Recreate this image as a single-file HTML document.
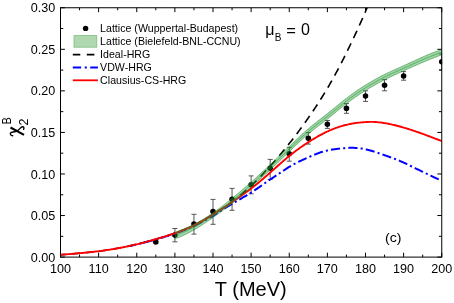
<!DOCTYPE html>
<html><head><meta charset="utf-8"><title>chi2B vs T</title>
<style>
html,body{margin:0;padding:0;background:#fff;}
body{width:454px;height:303px;overflow:hidden;font-family:"Liberation Sans",sans-serif;}
svg{display:block;will-change:transform;}
</style></head><body>
<svg width="454" height="303" viewBox="0 0 454 303" font-family="'Liberation Sans', sans-serif" fill="#000">
<rect width="454" height="303" fill="#fff"/>
<defs><clipPath id="cb"><rect x="130" y="0" width="330" height="303"/></clipPath><clipPath id="cp"><rect x="60.5" y="7.75" width="381.65" height="249.35"/></clipPath></defs>
<g clip-path="url(#cp)">
<path d="M174.88 228.5 V241.8 M172.38 228.5 H177.38 M172.38 241.8 H177.38 M193.94 214.3 V234.1 M191.44 214.3 H196.44 M191.44 234.1 H196.44 M213 199.4 V224.3 M210.5 199.4 H215.5 M210.5 224.3 H215.5 M232.06 188.4 V210.3 M229.56 188.4 H234.56 M229.56 210.3 H234.56 M251.12 175.9 V193.8 M248.62 175.9 H253.62 M248.62 193.8 H253.62 M270.19 159.4 V179.4 M267.69 159.4 H272.69 M267.69 179.4 H272.69 M289.25 147.3 V161.2 M286.75 147.3 H291.75 M286.75 161.2 H291.75 M308.31 132.6 V144.1 M305.81 132.6 H310.81 M305.81 144.1 H310.81 M327.38 120.5 V128.4 M324.88 120.5 H329.88 M324.88 128.4 H329.88 M346.44 103.6 V113.3 M343.94 103.6 H348.94 M343.94 113.3 H348.94 M365.5 90.8 V101.4 M363 90.8 H368 M363 101.4 H368 M384.56 79.6 V90.8 M382.06 79.6 H387.06 M382.06 90.8 H387.06 M403.62 71.6 V80.2 M401.12 71.6 H406.12 M401.12 80.2 H406.12 M441.75 54 V70 M439.25 54 H444.25 M439.25 70 H444.25" stroke="#555" stroke-width="1" fill="none"/>
<circle cx="155.81" cy="242" r="2.78"/>
<circle cx="174.88" cy="235.1" r="2.78"/>
<circle cx="193.94" cy="224.1" r="2.78"/>
<circle cx="213" cy="211.6" r="2.78"/>
<circle cx="232.06" cy="199.2" r="2.78"/>
<circle cx="251.12" cy="184.8" r="2.78"/>
<circle cx="270.19" cy="168.2" r="2.78"/>
<circle cx="289.25" cy="153.7" r="2.78"/>
<circle cx="308.31" cy="138.2" r="2.78"/>
<circle cx="327.38" cy="124.3" r="2.78"/>
<circle cx="346.44" cy="108.4" r="2.78"/>
<circle cx="365.5" cy="96" r="2.78"/>
<circle cx="384.56" cy="85.2" r="2.78"/>
<circle cx="403.62" cy="76" r="2.78"/>
<circle cx="441.75" cy="61.8" r="2.78"/>
<path d="M60.5 254.8 L61.45 254.73 L62.41 254.65 L63.36 254.58 L64.31 254.5 L65.27 254.43 L66.22 254.35 L67.17 254.27 L68.12 254.2 L69.08 254.12 L70.03 254.04 L70.98 253.96 L71.94 253.88 L72.89 253.79 L73.84 253.71 L74.8 253.63 L75.75 253.54 L76.7 253.46 L77.66 253.37 L78.61 253.29 L79.56 253.2 L80.52 253.11 L81.47 253.02 L82.42 252.93 L83.38 252.84 L84.33 252.75 L85.28 252.66 L86.23 252.56 L87.19 252.47 L88.14 252.37 L89.09 252.27 L90.05 252.17 L91 252.07 L91.95 251.97 L92.91 251.87 L93.86 251.76 L94.81 251.65 L95.77 251.54 L96.72 251.43 L97.67 251.32 L98.62 251.2 L99.58 251.08 L100.53 250.96 L101.48 250.83 L102.44 250.71 L103.39 250.58 L104.34 250.44 L105.3 250.31 L106.25 250.17 L107.2 250.03 L108.16 249.89 L109.11 249.74 L110.06 249.59 L111.02 249.44 L111.97 249.28 L112.92 249.13 L113.88 248.97 L114.83 248.8 L115.78 248.64 L116.73 248.47 L117.69 248.3 L118.64 248.13 L119.59 247.95 L120.55 247.77 L121.5 247.59 L122.45 247.41 L123.41 247.22 L124.36 247.03 L125.31 246.84 L126.27 246.64 L127.22 246.44 L128.17 246.24 L129.12 246.04 L130.08 245.83 L131.03 245.62 L131.98 245.41 L132.94 245.19 L133.89 244.97 L134.84 244.75 L135.8 244.53 L136.75 244.3 L137.7 244.07 L138.66 243.84 L139.61 243.6 L140.56 243.36 L141.52 243.12 L142.47 242.88 L143.42 242.63 L144.38 242.38 L145.33 242.13 L146.28 241.87 L147.23 241.61 L148.19 241.35 L149.14 241.09 L150.09 240.83 L151.05 240.56 L152 240.29 L152.95 240.02 L153.91 239.75 L154.86 239.48 L155.81 239.2 L156.77 238.92 L157.72 238.64 L158.67 238.36 L159.62 238.08 L160.58 237.8 L161.53 237.51 L162.48 237.22 L163.44 236.93 L164.39 236.64 L165.34 236.34 L166.3 236.04 L167.25 235.74 L168.2 235.44 L169.16 235.13 L170.11 234.82 L171.06 234.5 L172.02 234.18 L172.97 233.86 L173.92 233.53 L174.88 233.2 L175.83 232.86 L176.78 232.52 L177.73 232.18 L178.69 231.82 L179.64 231.47 L180.59 231.1 L181.55 230.73 L182.5 230.36 L183.45 229.98 L184.41 229.59 L185.36 229.19 L186.31 228.79 L187.27 228.38 L188.22 227.97 L189.17 227.54 L190.12 227.11 L191.08 226.67 L192.03 226.22 L192.98 225.77 L193.94 225.3 L194.89 224.82 L195.84 224.34 L196.8 223.84 L197.75 223.34 L198.7 222.83 L199.66 222.31 L200.61 221.78 L201.56 221.25 L202.52 220.7 L203.47 220.16 L204.42 219.6 L205.38 219.04 L206.33 218.47 L207.28 217.9 L208.23 217.32 L209.19 216.74 L210.14 216.15 L211.09 215.56 L212.05 214.97 L213 214.38 L213.95 213.78 L214.91 213.19 L215.86 212.59 L216.81 212 L217.77 211.4 L218.72 210.79 L219.67 210.19 L220.62 209.58 L221.58 208.97 L222.53 208.35 L223.48 207.73 L224.44 207.1 L225.39 206.47 L226.34 205.83 L227.3 205.18 L228.25 204.53 L229.2 203.87 L230.16 203.2 L231.11 202.52 L232.06 201.83 L233.02 201.13 L233.97 200.41 L234.92 199.69 L235.88 198.96 L236.83 198.21 L237.78 197.46 L238.73 196.69 L239.69 195.91 L240.64 195.13 L241.59 194.33 L242.55 193.52 L243.5 192.7 L244.45 191.87 L245.41 191.03 L246.36 190.18 L247.31 189.32 L248.27 188.45 L249.22 187.57 L250.17 186.68 L251.12 185.79 L252.08 184.88 L253.03 183.96 L253.98 183.04 L254.94 182.11 L255.89 181.17 L256.84 180.22 L257.8 179.26 L258.75 178.29 L259.7 177.31 L260.66 176.33 L261.61 175.34 L262.56 174.34 L263.52 173.33 L264.47 172.32 L265.42 171.3 L266.38 170.27 L267.33 169.23 L268.28 168.19 L269.23 167.14 L270.19 166.09 L271.14 165.03 L272.09 163.96 L273.05 162.88 L274 161.8 L274.95 160.71 L275.91 159.62 L276.86 158.52 L277.81 157.41 L278.77 156.3 L279.72 155.18 L280.67 154.05 L281.62 152.92 L282.58 151.77 L283.53 150.62 L284.48 149.47 L285.44 148.3 L286.39 147.13 L287.34 145.95 L288.3 144.76 L289.25 143.56 L290.2 142.36 L291.16 141.14 L292.11 139.92 L293.06 138.69 L294.02 137.45 L294.97 136.21 L295.92 134.95 L296.88 133.69 L297.83 132.42 L298.78 131.14 L299.73 129.85 L300.69 128.55 L301.64 127.25 L302.59 125.93 L303.55 124.61 L304.5 123.28 L305.45 121.94 L306.41 120.6 L307.36 119.24 L308.31 117.88 L309.27 116.51 L310.22 115.13 L311.17 113.74 L312.12 112.34 L313.08 110.94 L314.03 109.52 L314.98 108.09 L315.94 106.65 L316.89 105.2 L317.84 103.74 L318.8 102.27 L319.75 100.78 L320.7 99.28 L321.66 97.77 L322.61 96.24 L323.56 94.7 L324.52 93.14 L325.47 91.57 L326.42 89.98 L327.38 88.37 L328.33 86.75 L329.28 85.11 L330.23 83.45 L331.19 81.77 L332.14 80.08 L333.09 78.37 L334.05 76.65 L335 74.9 L335.95 73.14 L336.91 71.37 L337.86 69.58 L338.81 67.77 L339.77 65.95 L340.72 64.11 L341.67 62.26 L342.62 60.4 L343.58 58.52 L344.53 56.63 L345.48 54.72 L346.44 52.8 L347.39 50.87 L348.34 48.92 L349.3 46.96 L350.25 44.99 L351.2 43.01 L352.16 41.01 L353.11 39 L354.06 36.98 L355.02 34.94 L355.97 32.88 L356.92 30.81 L357.88 28.73 L358.83 26.63 L359.78 24.52 L360.73 22.39 L361.69 20.24 L362.64 18.08 L363.59 15.9 L364.55 13.7 L365.5 11.49 L366.45 9.26 L367.41 7.01 L368.36 4.75 L369.31 2.46 L370.27 0.16 L371.22 -2.16 L372.17 -4.51 L373.12 -6.87 L374.08 -9.25 L375.03 -11.65 L375.98 -14.08 L376.94 -16.52" stroke="#000" stroke-width="1.6" fill="none" stroke-dasharray="8.15 5.8" stroke-dashoffset="2.75"/>
<path clip-path="url(#cb)" d="M60.5 254.8 L61.45 254.72 L62.41 254.64 L63.36 254.56 L64.31 254.48 L65.27 254.4 L66.22 254.33 L67.17 254.25 L68.12 254.17 L69.08 254.09 L70.03 254.01 L70.98 253.93 L71.94 253.85 L72.89 253.77 L73.84 253.69 L74.8 253.61 L75.75 253.53 L76.7 253.45 L77.66 253.37 L78.61 253.28 L79.56 253.2 L80.52 253.11 L81.47 253.03 L82.42 252.94 L83.38 252.85 L84.33 252.76 L85.28 252.67 L86.23 252.58 L87.19 252.48 L88.14 252.39 L89.09 252.29 L90.05 252.19 L91 252.09 L91.95 251.98 L92.91 251.88 L93.86 251.77 L94.81 251.66 L95.77 251.55 L96.72 251.44 L97.67 251.32 L98.62 251.2 L99.58 251.08 L100.53 250.95 L101.48 250.83 L102.44 250.7 L103.39 250.57 L104.34 250.43 L105.3 250.3 L106.25 250.16 L107.2 250.02 L108.16 249.87 L109.11 249.73 L110.06 249.58 L111.02 249.43 L111.97 249.27 L112.92 249.12 L113.88 248.96 L114.83 248.8 L115.78 248.63 L116.73 248.47 L117.69 248.3 L118.64 248.13 L119.59 247.96 L120.55 247.78 L121.5 247.61 L122.45 247.43 L123.41 247.24 L124.36 247.06 L125.31 246.87 L126.27 246.68 L127.22 246.49 L128.17 246.29 L129.12 246.09 L130.08 245.89 L131.03 245.69 L131.98 245.48 L132.94 245.27 L133.89 245.06 L134.84 244.84 L135.8 244.62 L136.75 244.4 L137.7 244.17 L138.66 243.95 L139.61 243.71 L140.56 243.48 L141.52 243.24 L142.47 243 L143.42 242.76 L144.38 242.51 L145.33 242.27 L146.28 242.02 L147.23 241.76 L148.19 241.51 L149.14 241.25 L150.09 240.99 L151.05 240.73 L152 240.47 L152.95 240.2 L153.91 239.94 L154.86 239.67 L155.81 239.4 L156.77 239.13 L157.72 238.86 L158.67 238.58 L159.62 238.3 L160.58 238.03 L161.53 237.75 L162.48 237.46 L163.44 237.18 L164.39 236.89 L165.34 236.6 L166.3 236.3 L167.25 236.01 L168.2 235.71 L169.16 235.4 L170.11 235.09 L171.06 234.78 L172.02 234.47 L172.97 234.15 L173.92 233.83 L174.88 233.5 L175.83 233.17 L176.78 232.83 L177.73 232.49 L178.69 232.15 L179.64 231.8 L180.59 231.44 L181.55 231.08 L182.5 230.72 L183.45 230.35 L184.41 229.97 L185.36 229.59 L186.31 229.2 L187.27 228.81 L188.22 228.41 L189.17 228.01 L190.12 227.6 L191.08 227.18 L192.03 226.76 L192.98 226.33 L193.94 225.9 L194.89 225.46 L195.84 225.01 L196.8 224.56 L197.75 224.1 L198.7 223.63 L199.66 223.16 L200.61 222.68 L201.56 222.19 L202.52 221.7 L203.47 221.2 L204.42 220.69 L205.38 220.17 L206.33 219.65 L207.28 219.12 L208.23 218.59 L209.19 218.04 L210.14 217.49 L211.09 216.94 L212.05 216.37 L213 215.8 L213.95 215.22 L214.91 214.63 L215.86 214.04 L216.81 213.45 L217.77 212.84 L218.72 212.24 L219.67 211.63 L220.62 211.02 L221.58 210.41 L222.53 209.8 L223.48 209.18 L224.44 208.57 L225.39 207.96 L226.34 207.36 L227.3 206.75 L228.25 206.15 L229.2 205.55 L230.16 204.96 L231.11 204.38 L232.06 203.8 L233.02 203.23 L233.97 202.66 L234.92 202.11 L235.88 201.55 L236.83 201 L237.78 200.46 L238.73 199.91 L239.69 199.37 L240.64 198.82 L241.59 198.28 L242.55 197.73 L243.5 197.19 L244.45 196.63 L245.41 196.08 L246.36 195.52 L247.31 194.95 L248.27 194.38 L249.22 193.79 L250.17 193.2 L251.12 192.6 L252.08 191.99 L253.03 191.37 L253.98 190.74 L254.94 190.1 L255.89 189.45 L256.84 188.8 L257.8 188.14 L258.75 187.48 L259.7 186.81 L260.66 186.15 L261.61 185.48 L262.56 184.8 L263.52 184.13 L264.47 183.46 L265.42 182.79 L266.38 182.13 L267.33 181.46 L268.28 180.8 L269.23 180.15 L270.19 179.5 L271.14 178.86 L272.09 178.22 L273.05 177.59 L274 176.96 L274.95 176.34 L275.91 175.71 L276.86 175.08 L277.81 174.46 L278.77 173.82 L279.72 173.19 L280.67 172.55 L281.62 171.9 L282.58 171.26 L283.53 170.61 L284.48 169.96 L285.44 169.33 L286.39 168.69 L287.34 168.07 L288.3 167.46 L289.25 166.86 L290.2 166.28 L291.16 165.71 L292.11 165.16 L293.06 164.63 L294.02 164.11 L294.97 163.61 L295.92 163.11 L296.88 162.63 L297.83 162.16 L298.78 161.7 L299.73 161.24 L300.69 160.79 L301.64 160.35 L302.59 159.92 L303.55 159.48 L304.5 159.05 L305.45 158.62 L306.41 158.2 L307.36 157.77 L308.31 157.34 L309.27 156.92 L310.22 156.49 L311.17 156.08 L312.12 155.66 L313.08 155.25 L314.03 154.85 L314.98 154.46 L315.94 154.07 L316.89 153.7 L317.84 153.33 L318.8 152.98 L319.75 152.64 L320.7 152.32 L321.66 152.01 L322.61 151.72 L323.56 151.44 L324.52 151.18 L325.47 150.94 L326.42 150.71 L327.38 150.49 L328.33 150.29 L329.28 150.1 L330.23 149.93 L331.19 149.76 L332.14 149.61 L333.09 149.46 L334.05 149.33 L335 149.2 L335.95 149.07 L336.91 148.95 L337.86 148.84 L338.81 148.73 L339.77 148.63 L340.72 148.52 L341.67 148.42 L342.62 148.32 L343.58 148.23 L344.53 148.15 L345.48 148.07 L346.44 148 L347.39 147.93 L348.34 147.88 L349.3 147.84 L350.25 147.81 L351.2 147.8 L352.16 147.8 L353.11 147.81 L354.06 147.84 L355.02 147.89 L355.97 147.95 L356.92 148.02 L357.88 148.11 L358.83 148.22 L359.78 148.33 L360.73 148.46 L361.69 148.61 L362.64 148.77 L363.59 148.94 L364.55 149.12 L365.5 149.32 L366.45 149.53 L367.41 149.75 L368.36 149.98 L369.31 150.23 L370.27 150.48 L371.22 150.75 L372.17 151.02 L373.12 151.31 L374.08 151.6 L375.03 151.91 L375.98 152.22 L376.94 152.55 L377.89 152.87 L378.84 153.21 L379.8 153.54 L380.75 153.88 L381.7 154.22 L382.66 154.56 L383.61 154.89 L384.56 155.22 L385.52 155.55 L386.47 155.89 L387.42 156.22 L388.38 156.55 L389.33 156.89 L390.28 157.22 L391.23 157.57 L392.19 157.91 L393.14 158.26 L394.09 158.61 L395.05 158.97 L396 159.34 L396.95 159.72 L397.91 160.1 L398.86 160.49 L399.81 160.89 L400.77 161.3 L401.72 161.72 L402.67 162.15 L403.62 162.58 L404.58 163.02 L405.53 163.47 L406.48 163.92 L407.44 164.38 L408.39 164.84 L409.34 165.3 L410.3 165.77 L411.25 166.24 L412.2 166.71 L413.16 167.17 L414.11 167.64 L415.06 168.11 L416.02 168.58 L416.97 169.04 L417.92 169.51 L418.88 169.97 L419.83 170.44 L420.78 170.9 L421.73 171.36 L422.69 171.82 L423.64 172.28 L424.59 172.74 L425.55 173.2 L426.5 173.66 L427.45 174.12 L428.41 174.57 L429.36 175.03 L430.31 175.48 L431.27 175.93 L432.22 176.39 L433.17 176.84 L434.12 177.29 L435.08 177.73 L436.03 178.18 L436.98 178.63 L437.94 179.07 L438.89 179.51 L439.84 179.95 L440.8 180.39 L441.75 180.83" stroke="#0000ff" stroke-width="2" fill="none" stroke-dasharray="9.2 3.1 2.1 3.1" stroke-dashoffset="2.77"/>
<path d="M60.5 254.8 L61.45 254.72 L62.41 254.64 L63.36 254.56 L64.31 254.48 L65.27 254.41 L66.22 254.33 L67.17 254.25 L68.12 254.17 L69.08 254.09 L70.03 254.01 L70.98 253.94 L71.94 253.86 L72.89 253.78 L73.84 253.7 L74.8 253.62 L75.75 253.53 L76.7 253.45 L77.66 253.37 L78.61 253.28 L79.56 253.2 L80.52 253.11 L81.47 253.03 L82.42 252.94 L83.38 252.85 L84.33 252.76 L85.28 252.67 L86.23 252.57 L87.19 252.48 L88.14 252.38 L89.09 252.29 L90.05 252.19 L91 252.08 L91.95 251.98 L92.91 251.88 L93.86 251.77 L94.81 251.66 L95.77 251.55 L96.72 251.43 L97.67 251.32 L98.62 251.2 L99.58 251.08 L100.53 250.96 L101.48 250.83 L102.44 250.7 L103.39 250.57 L104.34 250.44 L105.3 250.3 L106.25 250.16 L107.2 250.02 L108.16 249.88 L109.11 249.73 L110.06 249.59 L111.02 249.43 L111.97 249.28 L112.92 249.12 L113.88 248.96 L114.83 248.8 L115.78 248.64 L116.73 248.47 L117.69 248.3 L118.64 248.13 L119.59 247.95 L120.55 247.77 L121.5 247.59 L122.45 247.41 L123.41 247.22 L124.36 247.03 L125.31 246.84 L126.27 246.64 L127.22 246.44 L128.17 246.24 L129.12 246.04 L130.08 245.83 L131.03 245.62 L131.98 245.41 L132.94 245.19 L133.89 244.97 L134.84 244.75 L135.8 244.53 L136.75 244.3 L137.7 244.07 L138.66 243.84 L139.61 243.6 L140.56 243.36 L141.52 243.12 L142.47 242.87 L143.42 242.62 L144.38 242.37 L145.33 242.12 L146.28 241.87 L147.23 241.61 L148.19 241.35 L149.14 241.09 L150.09 240.82 L151.05 240.56 L152 240.29 L152.95 240.02 L153.91 239.75 L154.86 239.48 L155.81 239.2 L156.77 238.92 L157.72 238.64 L158.67 238.36 L159.62 238.08 L160.58 237.8 L161.53 237.51 L162.48 237.22 L163.44 236.93 L164.39 236.64 L165.34 236.34 L166.3 236.04 L167.25 235.74 L168.2 235.43 L169.16 235.12 L170.11 234.81 L171.06 234.5 L172.02 234.18 L172.97 233.86 L173.92 233.53 L174.88 233.2 L175.83 232.87 L176.78 232.53 L177.73 232.18 L178.69 231.84 L179.64 231.48 L180.59 231.13 L181.55 230.76 L182.5 230.39 L183.45 230.02 L184.41 229.63 L185.36 229.24 L186.31 228.85 L187.27 228.45 L188.22 228.03 L189.17 227.62 L190.12 227.19 L191.08 226.76 L192.03 226.31 L192.98 225.86 L193.94 225.4 L194.89 224.93 L195.84 224.45 L196.8 223.96 L197.75 223.47 L198.7 222.96 L199.66 222.45 L200.61 221.93 L201.56 221.4 L202.52 220.87 L203.47 220.33 L204.42 219.78 L205.38 219.22 L206.33 218.66 L207.28 218.1 L208.23 217.53 L209.19 216.95 L210.14 216.37 L211.09 215.78 L212.05 215.19 L213 214.6 L213.95 214 L214.91 213.4 L215.86 212.8 L216.81 212.19 L217.77 211.58 L218.72 210.96 L219.67 210.35 L220.62 209.72 L221.58 209.1 L222.53 208.48 L223.48 207.85 L224.44 207.22 L225.39 206.58 L226.34 205.95 L227.3 205.31 L228.25 204.67 L229.2 204.03 L230.16 203.39 L231.11 202.75 L232.06 202.1 L233.02 201.45 L233.97 200.8 L234.92 200.15 L235.88 199.5 L236.83 198.85 L237.78 198.19 L238.73 197.53 L239.69 196.86 L240.64 196.19 L241.59 195.52 L242.55 194.84 L243.5 194.16 L244.45 193.47 L245.41 192.78 L246.36 192.08 L247.31 191.38 L248.27 190.67 L249.22 189.95 L250.17 189.23 L251.12 188.5 L252.08 187.76 L253.03 187.02 L253.98 186.26 L254.94 185.5 L255.89 184.74 L256.84 183.97 L257.8 183.19 L258.75 182.4 L259.7 181.61 L260.66 180.82 L261.61 180.02 L262.56 179.21 L263.52 178.4 L264.47 177.58 L265.42 176.76 L266.38 175.94 L267.33 175.11 L268.28 174.28 L269.23 173.44 L270.19 172.6 L271.14 171.76 L272.09 170.91 L273.05 170.07 L274 169.22 L274.95 168.37 L275.91 167.52 L276.86 166.67 L277.81 165.82 L278.77 164.98 L279.72 164.14 L280.67 163.3 L281.62 162.46 L282.58 161.63 L283.53 160.81 L284.48 159.99 L285.44 159.18 L286.39 158.37 L287.34 157.57 L288.3 156.78 L289.25 156 L290.2 155.23 L291.16 154.47 L292.11 153.71 L293.06 152.97 L294.02 152.24 L294.97 151.51 L295.92 150.79 L296.88 150.09 L297.83 149.39 L298.78 148.69 L299.73 148.01 L300.69 147.34 L301.64 146.67 L302.59 146.01 L303.55 145.36 L304.5 144.71 L305.45 144.07 L306.41 143.44 L307.36 142.82 L308.31 142.2 L309.27 141.59 L310.22 140.99 L311.17 140.39 L312.12 139.8 L313.08 139.22 L314.03 138.64 L314.98 138.07 L315.94 137.51 L316.89 136.96 L317.84 136.42 L318.8 135.89 L319.75 135.36 L320.7 134.84 L321.66 134.34 L322.61 133.84 L323.56 133.35 L324.52 132.87 L325.47 132.41 L326.42 131.95 L327.38 131.5 L328.33 131.06 L329.28 130.64 L330.23 130.22 L331.19 129.82 L332.14 129.42 L333.09 129.04 L334.05 128.67 L335 128.3 L335.95 127.95 L336.91 127.61 L337.86 127.28 L338.81 126.96 L339.77 126.66 L340.72 126.36 L341.67 126.07 L342.62 125.8 L343.58 125.53 L344.53 125.28 L345.48 125.03 L346.44 124.8 L347.39 124.58 L348.34 124.37 L349.3 124.17 L350.25 123.98 L351.2 123.79 L352.16 123.62 L353.11 123.46 L354.06 123.31 L355.02 123.17 L355.97 123.03 L356.92 122.9 L357.88 122.78 L358.83 122.67 L359.78 122.57 L360.73 122.48 L361.69 122.39 L362.64 122.31 L363.59 122.23 L364.55 122.16 L365.5 122.1 L366.45 122.04 L367.41 122 L368.36 121.95 L369.31 121.92 L370.27 121.9 L371.22 121.9 L372.17 121.9 L373.12 121.92 L374.08 121.96 L375.03 122 L375.98 122.06 L376.94 122.14 L377.89 122.22 L378.84 122.32 L379.8 122.42 L380.75 122.54 L381.7 122.67 L382.66 122.8 L383.61 122.95 L384.56 123.1 L385.52 123.26 L386.47 123.43 L387.42 123.61 L388.38 123.79 L389.33 123.98 L390.28 124.18 L391.23 124.39 L392.19 124.6 L393.14 124.82 L394.09 125.04 L395.05 125.27 L396 125.51 L396.95 125.75 L397.91 125.99 L398.86 126.25 L399.81 126.5 L400.77 126.77 L401.72 127.03 L402.67 127.3 L403.62 127.58 L404.58 127.86 L405.53 128.14 L406.48 128.43 L407.44 128.73 L408.39 129.02 L409.34 129.32 L410.3 129.63 L411.25 129.94 L412.2 130.25 L413.16 130.57 L414.11 130.88 L415.06 131.21 L416.02 131.53 L416.97 131.86 L417.92 132.19 L418.88 132.52 L419.83 132.86 L420.78 133.2 L421.73 133.54 L422.69 133.89 L423.64 134.23 L424.59 134.58 L425.55 134.93 L426.5 135.28 L427.45 135.64 L428.41 135.99 L429.36 136.35 L430.31 136.71 L431.27 137.07 L432.22 137.43 L433.17 137.8 L434.12 138.16 L435.08 138.53 L436.03 138.89 L436.98 139.26 L437.94 139.63 L438.89 139.99 L439.84 140.36 L440.8 140.73 L441.75 141.1" stroke="#ff0000" stroke-width="1.9" fill="none"/>
<path d="M174.88 232.3 L176.78 231.65 L178.69 230.97 L180.59 230.26 L182.5 229.51 L184.41 228.72 L186.31 227.91 L188.22 227.06 L190.12 226.17 L192.03 225.25 L193.94 224.3 L195.84 223.31 L197.75 222.29 L199.66 221.24 L201.56 220.15 L203.47 219.03 L205.38 217.87 L207.28 216.68 L209.19 215.45 L211.09 214.19 L213 212.9 L214.91 211.57 L216.81 210.21 L218.72 208.82 L220.62 207.4 L222.53 205.96 L224.44 204.49 L226.34 203 L228.25 201.48 L230.16 199.95 L232.06 198.4 L233.97 196.83 L235.88 195.25 L237.78 193.66 L239.69 192.05 L241.59 190.43 L243.5 188.79 L245.41 187.14 L247.31 185.47 L249.22 183.79 L251.12 182.1 L253.03 180.4 L254.94 178.68 L256.84 176.95 L258.75 175.21 L260.66 173.46 L262.56 171.7 L264.47 169.94 L266.38 168.16 L268.28 166.39 L270.19 164.6 L272.09 162.81 L274 161.01 L275.91 159.22 L277.81 157.41 L279.72 155.6 L281.62 153.79 L283.53 151.97 L285.44 150.15 L287.34 148.33 L289.25 146.5 L291.16 144.67 L293.06 142.84 L294.97 141.01 L296.88 139.2 L298.78 137.4 L300.69 135.62 L302.59 133.87 L304.5 132.14 L306.41 130.45 L308.31 128.8 L310.22 127.19 L312.12 125.62 L314.03 124.07 L315.94 122.55 L317.84 121.05 L319.75 119.57 L321.66 118.08 L323.56 116.6 L325.47 115.11 L327.38 113.6 L329.28 112.08 L331.19 110.54 L333.09 108.99 L335 107.44 L336.91 105.88 L338.81 104.34 L340.72 102.8 L342.62 101.28 L344.53 99.78 L346.44 98.3 L348.34 96.85 L350.25 95.44 L352.16 94.05 L354.06 92.69 L355.97 91.36 L357.88 90.06 L359.78 88.78 L361.69 87.53 L363.59 86.3 L365.5 85.1 L367.41 83.92 L369.31 82.76 L371.22 81.63 L373.12 80.52 L375.03 79.44 L376.94 78.38 L378.84 77.35 L380.75 76.34 L382.66 75.36 L384.56 74.4 L386.47 73.47 L388.38 72.56 L390.28 71.68 L392.19 70.81 L394.09 69.95 L396 69.1 L397.91 68.25 L399.81 67.4 L401.72 66.55 L403.62 65.7 L405.53 64.84 L407.44 63.96 L409.34 63.09 L411.25 62.21 L413.16 61.33 L415.06 60.45 L416.97 59.57 L418.88 58.71 L420.78 57.85 L422.69 57 L424.59 56.17 L426.5 55.35 L428.41 54.55 L430.31 53.78 L432.22 53.02 L434.12 52.3 L436.03 51.6 L437.94 50.93 L439.84 50.3 L441.75 49.7 L441.75 54.8 L439.84 55.51 L437.94 56.23 L436.03 56.96 L434.12 57.71 L432.22 58.46 L430.31 59.23 L428.41 60.01 L426.5 60.8 L424.59 61.59 L422.69 62.4 L420.78 63.21 L418.88 64.03 L416.97 64.86 L415.06 65.7 L413.16 66.54 L411.25 67.38 L409.34 68.23 L407.44 69.08 L405.53 69.94 L403.62 70.8 L401.72 71.66 L399.81 72.53 L397.91 73.4 L396 74.28 L394.09 75.17 L392.19 76.07 L390.28 76.98 L388.38 77.9 L386.47 78.84 L384.56 79.8 L382.66 80.78 L380.75 81.77 L378.84 82.78 L376.94 83.82 L375.03 84.88 L373.12 85.96 L371.22 87.06 L369.31 88.18 L367.41 89.33 L365.5 90.5 L363.59 91.7 L361.69 92.92 L359.78 94.17 L357.88 95.45 L355.97 96.75 L354.06 98.08 L352.16 99.44 L350.25 100.83 L348.34 102.25 L346.44 103.7 L344.53 105.18 L342.62 106.69 L340.72 108.21 L338.81 109.75 L336.91 111.3 L335 112.86 L333.09 114.41 L331.19 115.95 L329.28 117.49 L327.38 119 L325.47 120.49 L323.56 121.97 L321.66 123.44 L319.75 124.9 L317.84 126.37 L315.94 127.85 L314.03 129.34 L312.12 130.86 L310.22 132.41 L308.31 134 L306.41 135.63 L304.5 137.3 L302.59 139.01 L300.69 140.75 L298.78 142.51 L296.88 144.3 L294.97 146.11 L293.06 147.93 L291.16 149.76 L289.25 151.6 L287.34 153.44 L285.44 155.28 L283.53 157.12 L281.62 158.95 L279.72 160.78 L277.81 162.6 L275.91 164.42 L274 166.22 L272.09 168.02 L270.19 169.8 L268.28 171.57 L266.38 173.32 L264.47 175.07 L262.56 176.8 L260.66 178.52 L258.75 180.23 L256.84 181.94 L254.94 183.63 L253.03 185.32 L251.12 187 L249.22 188.67 L247.31 190.34 L245.41 192 L243.5 193.65 L241.59 195.28 L239.69 196.9 L237.78 198.51 L235.88 200.09 L233.97 201.66 L232.06 203.2 L230.16 204.72 L228.25 206.22 L226.34 207.69 L224.44 209.15 L222.53 210.58 L220.62 212 L218.72 213.4 L216.81 214.78 L214.91 216.15 L213 217.5 L211.09 218.84 L209.19 220.16 L207.28 221.46 L205.38 222.74 L203.47 224.01 L201.56 225.24 L199.66 226.45 L197.75 227.63 L195.84 228.78 L193.94 229.9 L192.03 230.98 L190.12 232.03 L188.22 233.03 L186.31 234 L184.41 234.92 L182.5 235.8 L180.59 236.62 L178.69 237.4 L176.78 238.13 L174.88 238.8Z" fill="#1f9a2f" fill-opacity="0.42" stroke="none"/>
<path d="M174.88 232.3 L176.78 231.65 L178.69 230.97 L180.59 230.26 L182.5 229.51 L184.41 228.72 L186.31 227.91 L188.22 227.06 L190.12 226.17 L192.03 225.25 L193.94 224.3 L195.84 223.31 L197.75 222.29 L199.66 221.24 L201.56 220.15 L203.47 219.03 L205.38 217.87 L207.28 216.68 L209.19 215.45 L211.09 214.19 L213 212.9 L214.91 211.57 L216.81 210.21 L218.72 208.82 L220.62 207.4 L222.53 205.96 L224.44 204.49 L226.34 203 L228.25 201.48 L230.16 199.95 L232.06 198.4 L233.97 196.83 L235.88 195.25 L237.78 193.66 L239.69 192.05 L241.59 190.43 L243.5 188.79 L245.41 187.14 L247.31 185.47 L249.22 183.79 L251.12 182.1 L253.03 180.4 L254.94 178.68 L256.84 176.95 L258.75 175.21 L260.66 173.46 L262.56 171.7 L264.47 169.94 L266.38 168.16 L268.28 166.39 L270.19 164.6 L272.09 162.81 L274 161.01 L275.91 159.22 L277.81 157.41 L279.72 155.6 L281.62 153.79 L283.53 151.97 L285.44 150.15 L287.34 148.33 L289.25 146.5 L291.16 144.67 L293.06 142.84 L294.97 141.01 L296.88 139.2 L298.78 137.4 L300.69 135.62 L302.59 133.87 L304.5 132.14 L306.41 130.45 L308.31 128.8 L310.22 127.19 L312.12 125.62 L314.03 124.07 L315.94 122.55 L317.84 121.05 L319.75 119.57 L321.66 118.08 L323.56 116.6 L325.47 115.11 L327.38 113.6 L329.28 112.08 L331.19 110.54 L333.09 108.99 L335 107.44 L336.91 105.88 L338.81 104.34 L340.72 102.8 L342.62 101.28 L344.53 99.78 L346.44 98.3 L348.34 96.85 L350.25 95.44 L352.16 94.05 L354.06 92.69 L355.97 91.36 L357.88 90.06 L359.78 88.78 L361.69 87.53 L363.59 86.3 L365.5 85.1 L367.41 83.92 L369.31 82.76 L371.22 81.63 L373.12 80.52 L375.03 79.44 L376.94 78.38 L378.84 77.35 L380.75 76.34 L382.66 75.36 L384.56 74.4 L386.47 73.47 L388.38 72.56 L390.28 71.68 L392.19 70.81 L394.09 69.95 L396 69.1 L397.91 68.25 L399.81 67.4 L401.72 66.55 L403.62 65.7 L405.53 64.84 L407.44 63.96 L409.34 63.09 L411.25 62.21 L413.16 61.33 L415.06 60.45 L416.97 59.57 L418.88 58.71 L420.78 57.85 L422.69 57 L424.59 56.17 L426.5 55.35 L428.41 54.55 L430.31 53.78 L432.22 53.02 L434.12 52.3 L436.03 51.6 L437.94 50.93 L439.84 50.3 L441.75 49.7 M174.88 238.8 L176.78 238.13 L178.69 237.4 L180.59 236.62 L182.5 235.8 L184.41 234.92 L186.31 234 L188.22 233.03 L190.12 232.03 L192.03 230.98 L193.94 229.9 L195.84 228.78 L197.75 227.63 L199.66 226.45 L201.56 225.24 L203.47 224.01 L205.38 222.74 L207.28 221.46 L209.19 220.16 L211.09 218.84 L213 217.5 L214.91 216.15 L216.81 214.78 L218.72 213.4 L220.62 212 L222.53 210.58 L224.44 209.15 L226.34 207.69 L228.25 206.22 L230.16 204.72 L232.06 203.2 L233.97 201.66 L235.88 200.09 L237.78 198.51 L239.69 196.9 L241.59 195.28 L243.5 193.65 L245.41 192 L247.31 190.34 L249.22 188.67 L251.12 187 L253.03 185.32 L254.94 183.63 L256.84 181.94 L258.75 180.23 L260.66 178.52 L262.56 176.8 L264.47 175.07 L266.38 173.32 L268.28 171.57 L270.19 169.8 L272.09 168.02 L274 166.22 L275.91 164.42 L277.81 162.6 L279.72 160.78 L281.62 158.95 L283.53 157.12 L285.44 155.28 L287.34 153.44 L289.25 151.6 L291.16 149.76 L293.06 147.93 L294.97 146.11 L296.88 144.3 L298.78 142.51 L300.69 140.75 L302.59 139.01 L304.5 137.3 L306.41 135.63 L308.31 134 L310.22 132.41 L312.12 130.86 L314.03 129.34 L315.94 127.85 L317.84 126.37 L319.75 124.9 L321.66 123.44 L323.56 121.97 L325.47 120.49 L327.38 119 L329.28 117.49 L331.19 115.95 L333.09 114.41 L335 112.86 L336.91 111.3 L338.81 109.75 L340.72 108.21 L342.62 106.69 L344.53 105.18 L346.44 103.7 L348.34 102.25 L350.25 100.83 L352.16 99.44 L354.06 98.08 L355.97 96.75 L357.88 95.45 L359.78 94.17 L361.69 92.92 L363.59 91.7 L365.5 90.5 L367.41 89.33 L369.31 88.18 L371.22 87.06 L373.12 85.96 L375.03 84.88 L376.94 83.82 L378.84 82.78 L380.75 81.77 L382.66 80.78 L384.56 79.8 L386.47 78.84 L388.38 77.9 L390.28 76.98 L392.19 76.07 L394.09 75.17 L396 74.28 L397.91 73.4 L399.81 72.53 L401.72 71.66 L403.62 70.8 L405.53 69.94 L407.44 69.08 L409.34 68.23 L411.25 67.38 L413.16 66.54 L415.06 65.7 L416.97 64.86 L418.88 64.03 L420.78 63.21 L422.69 62.4 L424.59 61.59 L426.5 60.8 L428.41 60.01 L430.31 59.23 L432.22 58.46 L434.12 57.71 L436.03 56.96 L437.94 56.23 L439.84 55.51 L441.75 54.8 M174.88 235.55 L176.78 234.89 L178.69 234.19 L180.59 233.44 L182.5 232.65 L184.41 231.82 L186.31 230.95 L188.22 230.04 L190.12 229.1 L192.03 228.12 L193.94 227.1 L195.84 226.05 L197.75 224.96 L199.66 223.84 L201.56 222.7 L203.47 221.52 L205.38 220.31 L207.28 219.07 L209.19 217.81 L211.09 216.52 L213 215.2 L214.91 213.86 L216.81 212.5 L218.72 211.11 L220.62 209.7 L222.53 208.27 L224.44 206.82 L226.34 205.34 L228.25 203.85 L230.16 202.33 L232.06 200.8 L233.97 199.25 L235.88 197.67 L237.78 196.08 L239.69 194.48 L241.59 192.85 L243.5 191.22 L245.41 189.57 L247.31 187.91 L249.22 186.23 L251.12 184.55 L253.03 182.86 L254.94 181.15 L256.84 179.44 L258.75 177.72 L260.66 175.99 L262.56 174.25 L264.47 172.5 L266.38 170.74 L268.28 168.98 L270.19 167.2 L272.09 165.41 L274 163.62 L275.91 161.82 L277.81 160.01 L279.72 158.19 L281.62 156.37 L283.53 154.54 L285.44 152.72 L287.34 150.88 L289.25 149.05 L291.16 147.22 L293.06 145.38 L294.97 143.56 L296.88 141.75 L298.78 139.96 L300.69 138.19 L302.59 136.44 L304.5 134.72 L306.41 133.04 L308.31 131.4 L310.22 129.8 L312.12 128.24 L314.03 126.71 L315.94 125.2 L317.84 123.71 L319.75 122.23 L321.66 120.76 L323.56 119.28 L325.47 117.8 L327.38 116.3 L329.28 114.78 L331.19 113.25 L333.09 111.7 L335 110.15 L336.91 108.59 L338.81 107.04 L340.72 105.5 L342.62 103.98 L344.53 102.48 L346.44 101 L348.34 99.55 L350.25 98.13 L352.16 96.75 L354.06 95.39 L355.97 94.06 L357.88 92.75 L359.78 91.48 L361.69 90.23 L363.59 89 L365.5 87.8 L367.41 86.62 L369.31 85.47 L371.22 84.34 L373.12 83.24 L375.03 82.16 L376.94 81.1 L378.84 80.07 L380.75 79.05 L382.66 78.07 L384.56 77.1 L386.47 76.16 L388.38 75.23 L390.28 74.33 L392.19 73.44 L394.09 72.56 L396 71.69 L397.91 70.83 L399.81 69.97 L401.72 69.11 L403.62 68.25 L405.53 67.39 L407.44 66.52 L409.34 65.66 L411.25 64.79 L413.16 63.93 L415.06 63.07 L416.97 62.22 L418.88 61.37 L420.78 60.53 L422.69 59.7 L424.59 58.88 L426.5 58.07 L428.41 57.28 L430.31 56.5 L432.22 55.74 L434.12 55 L436.03 54.28 L437.94 53.58 L439.84 52.9 L441.75 52.25" stroke="#1a8c2a" stroke-opacity="0.75" stroke-width="0.7" fill="none"/>
</g>
<rect x="60.5" y="7.75" width="381.25" height="249.35" fill="none" stroke="#000" stroke-width="1"/>
<path d="M60.5 257.1 v-4.4 M60.5 7.75 v4.4 M79.56 257.1 v-2.5 M79.56 7.75 v2.5 M98.62 257.1 v-4.4 M98.62 7.75 v4.4 M117.69 257.1 v-2.5 M117.69 7.75 v2.5 M136.75 257.1 v-4.4 M136.75 7.75 v4.4 M155.81 257.1 v-2.5 M155.81 7.75 v2.5 M174.88 257.1 v-4.4 M174.88 7.75 v4.4 M193.94 257.1 v-2.5 M193.94 7.75 v2.5 M213 257.1 v-4.4 M213 7.75 v4.4 M232.06 257.1 v-2.5 M232.06 7.75 v2.5 M251.12 257.1 v-4.4 M251.12 7.75 v4.4 M270.19 257.1 v-2.5 M270.19 7.75 v2.5 M289.25 257.1 v-4.4 M289.25 7.75 v4.4 M308.31 257.1 v-2.5 M308.31 7.75 v2.5 M327.38 257.1 v-4.4 M327.38 7.75 v4.4 M346.44 257.1 v-2.5 M346.44 7.75 v2.5 M365.5 257.1 v-4.4 M365.5 7.75 v4.4 M384.56 257.1 v-2.5 M384.56 7.75 v2.5 M403.62 257.1 v-4.4 M403.62 7.75 v4.4 M422.69 257.1 v-2.5 M422.69 7.75 v2.5 M441.75 257.1 v-4.4 M441.75 7.75 v4.4 M60.5 257.1 h4.4 M441.75 257.1 h-4.4 M60.5 236.32 h2.8 M441.75 236.32 h-2.8 M60.5 215.54 h4.4 M441.75 215.54 h-4.4 M60.5 194.76 h2.8 M441.75 194.76 h-2.8 M60.5 173.98 h4.4 M441.75 173.98 h-4.4 M60.5 153.2 h2.8 M441.75 153.2 h-2.8 M60.5 132.42 h4.4 M441.75 132.42 h-4.4 M60.5 111.65 h2.8 M441.75 111.65 h-2.8 M60.5 90.87 h4.4 M441.75 90.87 h-4.4 M60.5 70.09 h2.8 M441.75 70.09 h-2.8 M60.5 49.31 h4.4 M441.75 49.31 h-4.4 M60.5 28.53 h2.8 M441.75 28.53 h-2.8 M60.5 7.75 h4.4 M441.75 7.75 h-4.4" stroke="#000" stroke-width="1" fill="none"/>
<g font-size="12px" text-anchor="middle">
<text transform="translate(60.5 272.9) scale(1.05 1.0)">100</text>
<text transform="translate(98.62 272.9) scale(1.05 1.0)">110</text>
<text transform="translate(136.75 272.9) scale(1.05 1.0)">120</text>
<text transform="translate(174.88 272.9) scale(1.05 1.0)">130</text>
<text transform="translate(213 272.9) scale(1.05 1.0)">140</text>
<text transform="translate(251.12 272.9) scale(1.05 1.0)">150</text>
<text transform="translate(289.25 272.9) scale(1.05 1.0)">160</text>
<text transform="translate(327.38 272.9) scale(1.05 1.0)">170</text>
<text transform="translate(365.5 272.9) scale(1.05 1.0)">180</text>
<text transform="translate(403.62 272.9) scale(1.05 1.0)">190</text>
<text transform="translate(441.75 272.9) scale(1.05 1.0)">200</text>
</g>
<g font-size="12px" text-anchor="end">
<text transform="translate(55.3 261.85) scale(1.05 1.02)">0.00</text>
<text transform="translate(55.3 220.23) scale(1.05 1.02)">0.05</text>
<text transform="translate(55.3 178.6) scale(1.05 1.02)">0.10</text>
<text transform="translate(55.3 136.97) scale(1.05 1.02)">0.15</text>
<text transform="translate(55.3 95.35) scale(1.05 1.02)">0.20</text>
<text transform="translate(55.3 53.73) scale(1.05 1.02)">0.25</text>
<text transform="translate(55.3 12.1) scale(1.05 1.02)">0.30</text>
</g>
<text x="250.8" y="296" font-size="20px" text-anchor="middle">T (MeV)</text>
<path d="M10.5 127.5 L24.0 134.9" stroke="#000" stroke-width="2.0" fill="none"/><path d="M12.7 135.8 C11.0 135.7 9.9 134.3 10.5 133.1 C11.2 131.8 14.6 132.3 17.2 130.9 C19.6 129.6 20.4 127.2 22.2 126.8 C23.7 126.5 24.4 127.9 23.6 129.3" stroke="#000" stroke-width="1.4" fill="none" stroke-linecap="round"/>
<g transform="translate(20.5 136.2) rotate(-90)"><text x="10.6" y="7.6" font-size="12.5px">2</text><text x="11.6" y="-9.3" font-size="12.5px" textLength="7.4" lengthAdjust="spacingAndGlyphs">B</text></g>
<text x="265.3" y="35.1" font-size="16px">μ</text><text x="274.7" y="40.5" font-size="10px">B</text><text x="286.3" y="35.7" font-size="16.5px">=</text><text x="301" y="34.9" font-size="16px">0</text>
<text transform="translate(385.1 241.6) scale(1.07 1)" font-size="13.2px">(c)</text>
<circle cx="85.6" cy="28.4" r="2.72"/>
<rect x="74" y="35.6" width="22.8" height="11.6" fill="#b0d8b0" stroke="#7fbf7f" stroke-width="0.8"/>
<path d="M72.8 54.6 H80.3 M86.8 54.6 H94.4" stroke="#000" stroke-width="1.6"/>
<path d="M72.8 67.5 H81.1 M84.7 67.5 H86.8 M90.2 67.5 H97.9" stroke="#0000ff" stroke-width="1.8"/>
<path d="M72.8 80.3 H97.9" stroke="#ff0000" stroke-width="1.8"/>
<g font-size="10px" transform="translate(100.1 0) scale(1.064 1)">
<text x="0" y="32">Lattice (Wuppertal-Budapest)</text>
<text x="0" y="45.02">Lattice (Bielefeld-BNL-CCNU)</text>
<text x="0" y="58.04">Ideal-HRG</text>
<text x="0" y="71.06">VDW-HRG</text>
<text x="0" y="84.08">Clausius-CS-HRG</text>
</g>
</svg>
</body></html>
